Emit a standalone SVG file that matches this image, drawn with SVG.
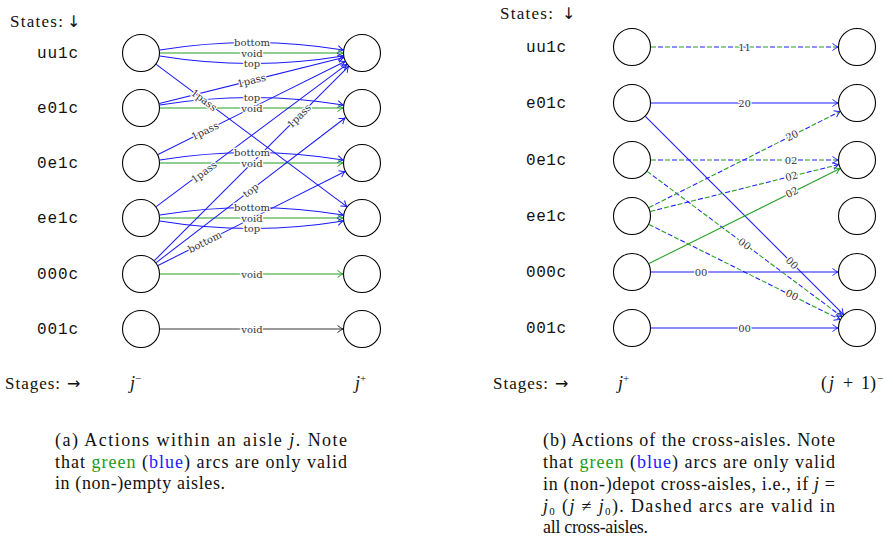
<svg xmlns="http://www.w3.org/2000/svg" width="893" height="538" viewBox="0 0 893 538">
<defs>
<style>
.n{fill:#fff;stroke:#000;stroke-width:1.1}
.b{fill:none;stroke:#1a1aff;stroke-width:1.05}
.g{fill:none;stroke:#22a022;stroke-width:1.05}
.k{fill:none;stroke:#222;stroke-width:0.9}
.gd{fill:none;stroke:#22a022;stroke-width:1.05;stroke-dasharray:5 9}
.bd{fill:none;stroke:#1a1aff;stroke-width:1.05;stroke-dasharray:5 9;stroke-dashoffset:7}
.ma{marker-end:url(#ab)}
.mg{marker-end:url(#ag)}
.mk{marker-end:url(#ak)}
.lbl{font-family:"DejaVu Serif",serif;font-size:10px;fill:#333;text-anchor:middle;stroke:#fff;stroke-width:2.5;paint-order:stroke;stroke-linejoin:round}
.st{font-family:"Liberation Mono",monospace;font-size:16px;fill:#111}
.tx{font-family:"Liberation Serif",serif;font-size:18px;fill:#111}
.hd{font-family:"Liberation Serif",serif;font-size:17px;fill:#111}
.ar{font-family:"DejaVu Sans",sans-serif;font-size:16px}
.it{font-style:italic}
</style>
<marker id="ab" viewBox="-7 -5 8 10" markerWidth="8" markerHeight="10" refX="0" refY="0" orient="auto" markerUnits="userSpaceOnUse"><path d="M-5.5,-3.5 Q-2,-0.8 0,0 Q-2,0.8 -5.5,3.5" fill="none" stroke="#1a1aff" stroke-width="1"/></marker>
<marker id="ag" viewBox="-7 -5 8 10" markerWidth="8" markerHeight="10" refX="0" refY="0" orient="auto" markerUnits="userSpaceOnUse"><path d="M-5.5,-3.5 Q-2,-0.8 0,0 Q-2,0.8 -5.5,3.5" fill="none" stroke="#22a022" stroke-width="1"/></marker>
<marker id="ak" viewBox="-7 -5 8 10" markerWidth="8" markerHeight="10" refX="0" refY="0" orient="auto" markerUnits="userSpaceOnUse"><path d="M-5.5,-3.5 Q-2,-0.8 0,0 Q-2,0.8 -5.5,3.5" fill="none" stroke="#222" stroke-width="1"/></marker>
</defs>
<rect width="893" height="538" fill="#fff"/>

<g id="connectors">
  <!-- left panel -->
  <path class="b ma" d="M159.8,50 Q251.5,35 343.2,50"/>
  <path class="g mg" d="M160,53 L343,53"/>
  <path class="b ma" d="M159.8,56 Q251.5,71 343.2,56"/>
  <path class="b ma" d="M156.2,64.4 L346.8,206.6"/>
  <path class="b ma" d="M159.4,103.4 L343.6,57.6"/>
  <path class="b ma" d="M159.8,105 Q251.5,90 343.2,105"/>
  <path class="g mg" d="M160,108 L343,108"/>
  <path class="b ma" d="M158,154.5 L345,61.5"/>
  <path class="b ma" d="M159.8,160 Q251.5,145 343.2,160"/>
  <path class="g mg" d="M160,163 L343,163"/>
  <path class="b ma" d="M156.2,206.6 L346.8,64.4"/>
  <path class="b ma" d="M159.8,215 Q251.5,200 343.2,215"/>
  <path class="g mg" d="M160,218 L343,218"/>
  <path class="b ma" d="M159.8,221 Q251.5,236 343.2,221"/>
  <path class="b ma" d="M154.4,260.6 L348.6,66.4"/>
  <path class="b ma" d="M156.2,262.6 L345,118"/>
  <path class="b ma" d="M158,265.5 L345,171.5"/>
  <path class="g mg" d="M160,274 L343,274"/>
  <path class="k mk" d="M160,329 L343,329"/>

  <text class="lbl" x="252" y="46">bottom</text>
  <text class="lbl" x="252" y="56.5">void</text>
  <text class="lbl" x="252" y="67">top</text>
  <text class="lbl" transform="translate(204,100) rotate(36.7)" x="0" y="3.5">1pass</text>
  <text class="lbl" transform="translate(251.5,80.5) rotate(-14)" x="0" y="3.5">1pass</text>
  <text class="lbl" x="252" y="101">top</text>
  <text class="lbl" x="252" y="111.5">void</text>
  <text class="lbl" transform="translate(205,131) rotate(-26.5)" x="0" y="3.5">1pass</text>
  <text class="lbl" x="252" y="156">bottom</text>
  <text class="lbl" x="252" y="166.5">void</text>
  <text class="lbl" transform="translate(204,172) rotate(-36.7)" x="0" y="3.5">1pass</text>
  <text class="lbl" x="252" y="211">bottom</text>
  <text class="lbl" x="252" y="221.5">void</text>
  <text class="lbl" x="252" y="232">top</text>
  <text class="lbl" transform="translate(299,116) rotate(-45)" x="0" y="3.5">1pass</text>
  <text class="lbl" transform="translate(250.6,190.3) rotate(-37.4)" x="0" y="3.5">top</text>
  <text class="lbl" transform="translate(204.75,242) rotate(-26.7)" x="0" y="3.5">bottom</text>
  <text class="lbl" x="252" y="277.5">void</text>
  <text class="lbl" x="252" y="332.5">void</text>

  <!-- right panel -->
  <path class="gd" d="M651,47 L838,47"/>
  <path class="bd ma" d="M651,47 L838,47"/>
  <path class="b ma" d="M651,103 L838,103"/>
  <path class="b ma" d="M645.4,116.4 L843.6,314.6"/>
  <path class="gd" d="M651,160 L838,160"/>
  <path class="bd ma" d="M651,160 L838,160"/>
  <path class="gd" d="M647.2,171.4 L841.8,316.6"/>
  <path class="bd ma" d="M647.2,171.4 L841.8,316.6"/>
  <path class="gd" d="M649,207.5 L840,111.5"/>
  <path class="bd ma" d="M649,207.5 L840,111.5"/>
  <path class="gd" d="M650.4,211.4 L838.6,164.6"/>
  <path class="bd ma" d="M650.4,211.4 L838.6,164.6"/>
  <path class="gd" d="M649,224.5 L840,319.5"/>
  <path class="bd ma" d="M649,224.5 L840,319.5"/>
  <path class="g mg" d="M649,263.5 L840,168.5"/>
  <path class="b ma" d="M651,272 L838,272"/>
  <path class="b ma" d="M651,328 L838,328"/>

  <text class="lbl" x="744.5" y="50.5">11</text>
  <text class="lbl" x="744.5" y="106.5">20</text>
  <text class="lbl" transform="translate(792,263) rotate(45)" x="0" y="3.5">00</text>
  <text class="lbl" x="791" y="163.5">02</text>
  <text class="lbl" transform="translate(744.5,244) rotate(36.7)" x="0" y="3.5">00</text>
  <text class="lbl" transform="translate(792,135.5) rotate(-26.7)" x="0" y="3.5">20</text>
  <text class="lbl" transform="translate(791.5,176.3) rotate(-14)" x="0" y="3.5">02</text>
  <text class="lbl" transform="translate(792,295) rotate(26.5)" x="0" y="3.5">00</text>
  <text class="lbl" transform="translate(792,192.3) rotate(-26.5)" x="0" y="3.5">02</text>
  <text class="lbl" x="701" y="275.5">00</text>
  <text class="lbl" x="744.5" y="331.5">00</text>
</g>

<g id="a-uu1c-minus"><circle class="n" cx="141" cy="53" r="18.5"/></g>
<g id="a-e01c-minus"><circle class="n" cx="141" cy="108" r="18.5"/></g>
<g id="a-0e1c-minus"><circle class="n" cx="141" cy="163" r="18.5"/></g>
<g id="a-ee1c-minus"><circle class="n" cx="141" cy="218" r="18.5"/></g>
<g id="a-000c-minus"><circle class="n" cx="141" cy="274" r="18.5"/></g>
<g id="a-001c-minus"><circle class="n" cx="141" cy="329" r="18.5"/></g>
<g id="a-uu1c-plus"><circle class="n" cx="362" cy="53" r="18.5"/></g>
<g id="a-e01c-plus"><circle class="n" cx="362" cy="108" r="18.5"/></g>
<g id="a-0e1c-plus"><circle class="n" cx="362" cy="163" r="18.5"/></g>
<g id="a-ee1c-plus"><circle class="n" cx="362" cy="218" r="18.5"/></g>
<g id="a-000c-plus"><circle class="n" cx="362" cy="274" r="18.5"/></g>
<g id="a-001c-plus"><circle class="n" cx="362" cy="329" r="18.5"/></g>

<g id="b-uu1c-plus"><circle class="n" cx="632" cy="47" r="18.5"/></g>
<g id="b-e01c-plus"><circle class="n" cx="632" cy="103" r="18.5"/></g>
<g id="b-0e1c-plus"><circle class="n" cx="632" cy="160" r="18.5"/></g>
<g id="b-ee1c-plus"><circle class="n" cx="632" cy="216" r="18.5"/></g>
<g id="b-000c-plus"><circle class="n" cx="632" cy="272" r="18.5"/></g>
<g id="b-001c-plus"><circle class="n" cx="632" cy="328" r="18.5"/></g>
<g id="b-uu1c-next"><circle class="n" cx="857" cy="47" r="18.5"/></g>
<g id="b-e01c-next"><circle class="n" cx="857" cy="103" r="18.5"/></g>
<g id="b-0e1c-next"><circle class="n" cx="857" cy="160" r="18.5"/></g>
<g id="b-ee1c-next"><circle class="n" cx="857" cy="216" r="18.5"/></g>
<g id="b-000c-next"><circle class="n" cx="857" cy="272" r="18.5"/></g>
<g id="b-001c-next"><circle class="n" cx="857" cy="328" r="18.5"/></g>

<g id="labels-a">
  <text class="hd" x="10" y="27"><tspan textLength="53">States:</tspan><tspan class="ar" x="67">↓</tspan></text>
  <text class="st" x="37" y="58" textLength="41">uu1c</text>
  <text class="st" x="37" y="113" textLength="41">e01c</text>
  <text class="st" x="37" y="168" textLength="41">0e1c</text>
  <text class="st" x="37" y="223" textLength="41">ee1c</text>
  <text class="st" x="37" y="279" textLength="41">000c</text>
  <text class="st" x="37" y="334" textLength="41">001c</text>
  <text class="hd" x="5" y="389"><tspan textLength="55">Stages:</tspan><tspan class="ar" x="67">→</tspan></text>
  <text class="tx" x="130" y="389"><tspan class="it">j</tspan><tspan font-size="11" dy="-7">−</tspan></text>
  <text class="tx" x="355" y="389"><tspan class="it">j</tspan><tspan font-size="11" dy="-7">+</tspan></text>
  <text class="tx" x="55" y="446" textLength="292">(a) Actions within an aisle <tspan class="it">j</tspan>. Note</text>
  <text class="tx" x="55" y="468" textLength="292">that <tspan fill="#1a9a1a">green</tspan> (<tspan fill="#1a1aff">blue</tspan>) arcs are only valid</text>
  <text class="tx" x="55" y="489" textLength="170">in (non-)empty aisles.</text>
</g>

<g id="labels-b">
  <text class="hd" x="500" y="19"><tspan textLength="53">States:</tspan><tspan class="ar" x="562">↓</tspan></text>
  <text class="st" x="526" y="52" textLength="40">uu1c</text>
  <text class="st" x="526" y="108" textLength="40">e01c</text>
  <text class="st" x="526" y="165" textLength="40">0e1c</text>
  <text class="st" x="526" y="221" textLength="40">ee1c</text>
  <text class="st" x="526" y="277" textLength="40">000c</text>
  <text class="st" x="526" y="333" textLength="40">001c</text>
  <text class="hd" x="493" y="389"><tspan textLength="55">Stages:</tspan><tspan class="ar" x="555">→</tspan></text>
  <text class="tx" x="618" y="389"><tspan class="it">j</tspan><tspan font-size="11" dy="-7">+</tspan></text>
  <text class="tx" y="389"><tspan x="821">(</tspan><tspan class="it" x="829">j</tspan><tspan x="843">+</tspan><tspan x="861">1</tspan><tspan x="870">)</tspan><tspan font-size="11" x="877" dy="-7">−</tspan></text>
  <text class="tx" x="543" y="446" textLength="292">(b) Actions of the cross-aisles. Note</text>
  <text class="tx" x="543" y="468" textLength="292">that <tspan fill="#1a9a1a">green</tspan> (<tspan fill="#1a1aff">blue</tspan>) arcs are only valid</text>
  <text class="tx" x="543" y="490" textLength="292">in (non-)depot cross-aisles, i.e., if <tspan class="it">j</tspan> =</text>
  <text class="tx" x="543" y="512" textLength="292"><tspan class="it">j</tspan><tspan font-size="11" dy="3">0</tspan><tspan dy="-3"> (</tspan><tspan class="it">j</tspan> ≠ <tspan class="it">j</tspan><tspan font-size="11" dy="3">0</tspan><tspan dy="-3">). Dashed arcs are valid in</tspan></text>
  <text class="tx" x="543" y="533" textLength="105">all cross-aisles.</text>
</g>
</svg>
